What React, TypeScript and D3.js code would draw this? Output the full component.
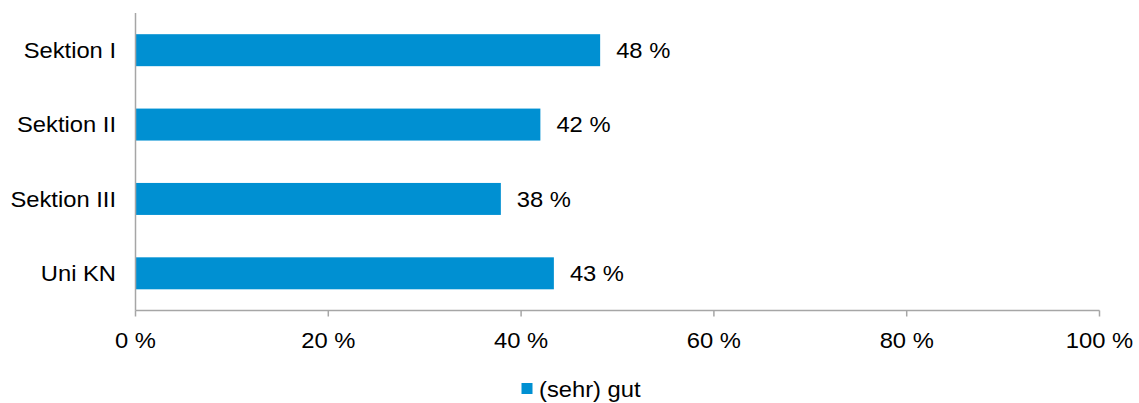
import * as d3 from "d3";

const categories = ["Sektion I", "Sektion II", "Sektion III", "Uni KN"];
const values = [48.2, 42.0, 37.9, 43.4];
const labels = ["48 %", "42 %", "38 %", "43 %"];
const xTicks = [0, 20, 40, 60, 80, 100];
const seriesName = "(sehr) gut";

const W = 1139;
const H = 403;
const margin = { top: 13, right: 40, bottom: 93, left: 135.5 };
const BAR = "#0090D2";
const AXIS = "#A6A6A6";
const FONT = "'Liberation Sans', Arial, sans-serif";

// the reference text looks a bit wider than plain Arial
function Label(props: {
  x: number;
  y: number;
  anchor?: "start" | "middle" | "end";
  mid?: boolean;
  children: string;
}) {
  return (
    <text
      transform={`translate(${props.x},${props.y}) scale(1.08,1)`}
      dy={props.mid ? "0.35em" : undefined}
      fontSize={22}
      textAnchor={props.anchor ?? "start"}
      fill="#000"
    >
      {props.children}
    </text>
  );
}

export default function App() {
  const x = d3.scaleLinear().domain([0, 100]).range([margin.left, 1099.5]);
  const y = d3
    .scaleBand<string>()
    .domain(categories)
    .range([margin.top, H - margin.bottom + 0.5])
    .paddingInner(0.57)
    .paddingOuter(0.285);
  const y0 = H - margin.bottom + 0.5;

  return (
    <svg
      width={W}
      height={H}
      style={{ position: "absolute", left: 0, top: 0, fontFamily: FONT }}
    >
      {/* bars */}
      {categories.map((c, i) => {
        const cy = (y(c) ?? 0) + y.bandwidth() / 2;
        return (
          <g key={c}>
            <rect
              x={x(0)}
              y={y(c)}
              width={x(values[i]) - x(0)}
              height={y.bandwidth()}
              fill={BAR}
            />
            <Label x={x(values[i]) + 16} y={cy} mid>
              {labels[i]}
            </Label>
            <Label x={116} y={cy} anchor="end" mid>
              {c}
            </Label>
          </g>
        );
      })}

      {/* axes */}
      <line x1={x(0)} x2={x(0)} y1={margin.top} y2={y0} stroke={AXIS} strokeWidth={1.5} />
      <line x1={x(0)} x2={x(100)} y1={y0} y2={y0} stroke={AXIS} strokeWidth={1.5} />
      {xTicks.map((t) => (
        <g key={t}>
          <line x1={x(t)} x2={x(t)} y1={y0} y2={y0 + 6} stroke={AXIS} strokeWidth={1.5} />
          <Label x={x(t)} y={y0 + 37} anchor="middle">
            {`${t} %`}
          </Label>
        </g>
      ))}

      {/* legend */}
      <rect x={521.5} y={383} width={11} height={11} fill={BAR} />
      <Label x={539} y={389} mid>
        {seriesName}
      </Label>
    </svg>
  );
}
